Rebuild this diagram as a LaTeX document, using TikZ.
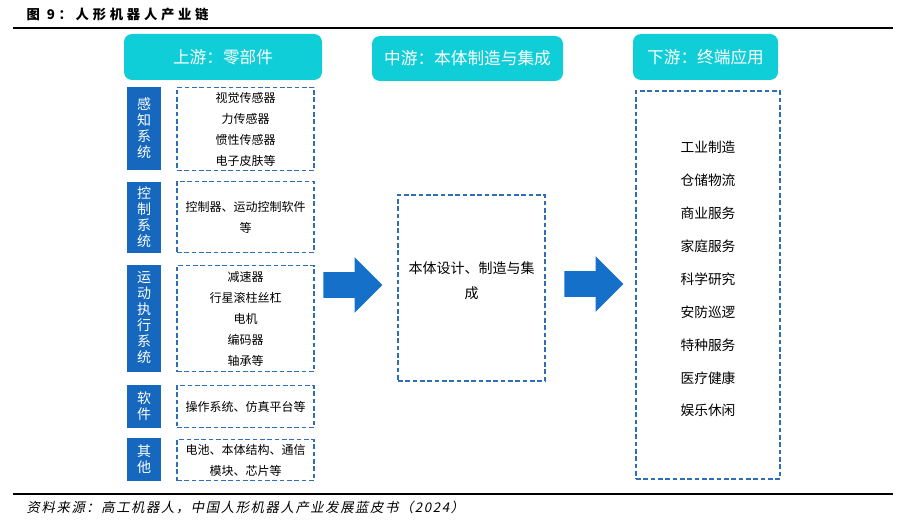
\documentclass[tikz,border=0pt]{standalone}
\usepackage{fontspec}
\setmainfont{Noto Sans CJK SC}
\newfontfamily\titlefont[LetterSpace=28]{Noto Sans CJK SC}
\newfontfamily\srcfont[FakeSlant=0.2,LetterSpace=12]{Noto Sans CJK SC}
\usetikzlibrary{shapes.arrows}

\definecolor{headcyan}{RGB}{16,206,216}
\definecolor{sysblue}{RGB}{22,104,190}
\definecolor{arrowblue}{RGB}{20,112,200}
\definecolor{dashblue}{RGB}{46,110,180}

\tikzset{
  stage/.style={fill=headcyan, rounded corners=6pt, text=white, inner sep=0pt,
    font=\fontsize{12.5}{15}\selectfont},
  sysbox/.style={fill=sysblue, text=white, minimum width=25.5pt, inner sep=0pt,
    align=center, font=\fontsize{10.5}{12}\selectfont},
  partbox/.style={draw=dashblue, line width=0.9pt, dash pattern=on 3.5pt off 2pt,
    minimum width=102.75pt, inner sep=0pt, align=center,
    font=\fontsize{9}{15.75}\selectfont},
  flow/.style={single arrow, fill=arrowblue, single arrow head extend=11.25pt,
    minimum height=44.25pt, inner xsep=0pt, inner ysep=9.375pt},
}

\begin{document}
\begin{tikzpicture}[x=0.75pt, y=-0.75pt]
    \useasboundingbox (0,0) rectangle (900,524);

    % Title and rules
    \node[anchor=west, font=\titlefont\bfseries\fontsize{10}{12}\selectfont] (title) at (22,14) {图 9：人形机器人产业链};
    \draw[line width=1.5pt] (13,28) -- (893,28);
    \draw[line width=1.2pt] (13,494) -- (893,494);
    \node[anchor=west, font=\srcfont\fontsize{10}{12}\selectfont] (source) at (22,508) {资料来源：高工机器人，中国人形机器人产业发展蓝皮书（2024）};

    % Stage headers
    \node[stage, minimum width=148.5pt, minimum height=34.5pt] (up) at (223,57) {上游：零部件};
    \node[stage, minimum width=143.25pt, minimum height=33.75pt] (mid) at (467.5,58.5) {中游：本体制造与集成};
    \node[stage, minimum width=108.75pt, minimum height=34.5pt] (down) at (705.5,57) {下游：终端应用};

    % Upstream systems
    \node[sysbox, minimum height=62.25pt] (sense) at (144,128.5) {感\\知\\系\\统};
    \node[sysbox, minimum height=53.25pt] (ctrl) at (144,217.5) {控\\制\\系\\统};
    \node[sysbox, minimum height=80.25pt] (motion) at (144,318) {运\\动\\执\\行\\系\\统};
    \node[sysbox, minimum height=32.25pt] (soft) at (144,406) {软\\件};
    \node[sysbox, minimum height=32.25pt] (other) at (144,459) {其\\他};

    % Upstream parts
    \node[partbox, minimum height=62.25pt] (senseparts) at (245.5,129) {视觉传感器\\力传感器\\惯性传感器\\电子皮肤等};
    \node[partbox, minimum height=53.25pt] (ctrlparts) at (245.5,217) {控制器、运动控制软件\\等};
    \node[partbox, minimum height=79.5pt] (motionparts) at (245.5,318.5) {减速器\\行星滚柱丝杠\\电机\\编码器\\轴承等};
    \node[partbox, minimum height=31.5pt] (softparts) at (245.5,406.5) {操作系统、仿真平台等};
    \node[partbox, minimum height=30.75pt] (otherparts) at (245.5,460) {电池、本体结构、通信\\模块、芯片等};

    % Midstream
    \node[partbox, minimum width=110.25pt, minimum height=139.5pt] (body) at (471.5,288) {};
    \node[align=center, font=\fontsize{10.5}{18.75}\selectfont] (bodytext) at (471.5,281) {本体设计、制造与集\\成};

    % Downstream
    \node[partbox, minimum width=108pt, minimum height=291pt] (apps) at (708,285) {};
    \node[align=center, font=\fontsize{10.3}{24.7}\selectfont] (appstext) at (708,279)
      {工业制造\\仓储物流\\商业服务\\家庭服务\\科学研究\\安防巡逻\\特种服务\\医疗健康\\娱乐休闲};

    % Flow arrows
    \node[flow] (flowA) at (346.5,285) {};
    \node[flow] (flowB) at (587.5,284) {};
\end{tikzpicture}
\end{document}
